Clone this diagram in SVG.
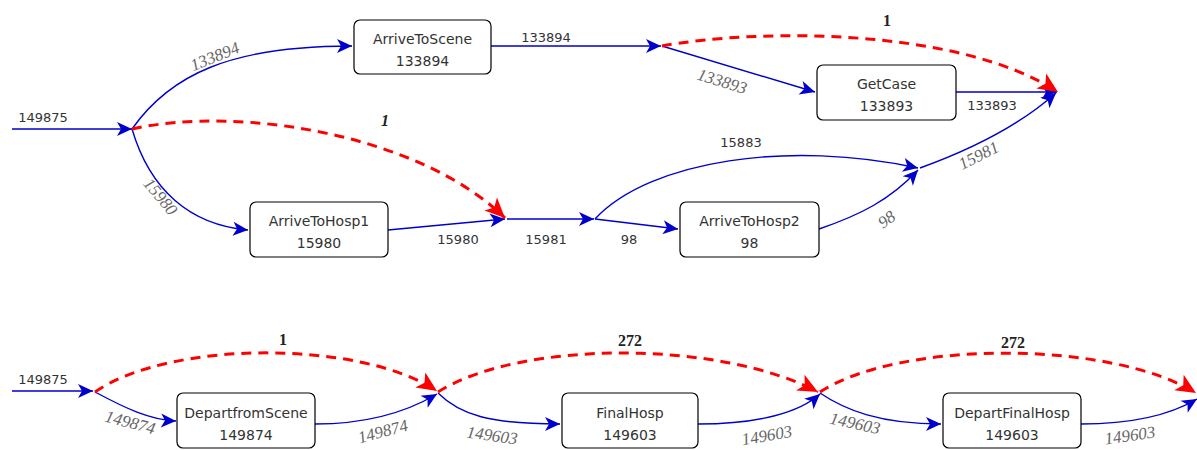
<svg xmlns="http://www.w3.org/2000/svg" width="1197" height="450" viewBox="0 0 1197 450">
<style>
.node rect{fill:#fff;stroke:#000;stroke-width:1.2}
.node text{font-family:"DejaVu Sans",sans-serif;font-size:14px;fill:#333;text-anchor:middle}
.e{fill:none;stroke:#0000CC;stroke-width:1.4;marker-end:url(#ab)}
.r{fill:none;stroke:#FF0000;stroke-width:3;stroke-dasharray:10 7;marker-end:url(#ar)}
.lu{font-family:"DejaVu Sans",sans-serif;font-size:13px;fill:#333;text-anchor:middle}
.li{font-family:"Liberation Serif",serif;font-style:italic;font-size:17px;fill:#666;text-anchor:middle}
.lb{font-family:"Liberation Serif",serif;font-weight:bold;font-size:16px;fill:#222;text-anchor:middle}
</style>
<defs>
<marker id="ab" markerUnits="userSpaceOnUse" markerWidth="16" markerHeight="15" refX="15" refY="7" orient="auto" overflow="visible">
<path d="M0,0 L15,7 L0,14 L4,7 Z" fill="#0000CC"/>
</marker>
<marker id="ar" markerUnits="userSpaceOnUse" markerWidth="21" markerHeight="19" refX="20" refY="9" orient="auto" overflow="visible">
<path d="M0,0 L20,9 L0,18 L5,9 Z" fill="#FF0000"/>
</marker>
</defs>
<g id="connectors">
<path class="e" d="M12,129 L132,129"/>
<path class="e" d="M132,129 C170,75 230,46 352,46"/>
<path class="e" d="M132,129 C150,190 190,225 248,230"/>
<path class="e" d="M491,46 L661,46"/>
<path class="e" d="M662,46 L815,92"/>
<path class="e" d="M956,92 L1057,92"/>
<path class="e" d="M388,230 L505,219"/>
<path class="e" d="M507,219 L594,219"/>
<path class="e" d="M595,219 L678,229"/>
<path class="e" d="M595,219 C650,160 790,140 918,168"/>
<path class="e" d="M819,229 C860,215 890,200 918,170"/>
<path class="e" d="M920,168 C970,150 1020,125 1056,93"/>
<path class="r" d="M132,129 C240,105 420,135 505,218"/>
<path class="r" d="M662,46 C760,28 960,28 1058,92"/>
<path class="e" d="M12,391 L93,391"/>
<path class="e" d="M95,392 C125,408 150,420 176,421"/>
<path class="e" d="M315,424 C370,424 410,410 437,394"/>
<path class="e" d="M438,393 C460,415 490,424 560,424"/>
<path class="e" d="M698,424 C760,424 800,412 820,394"/>
<path class="e" d="M820,393 C845,410 880,424 941,424"/>
<path class="e" d="M1081,424 C1130,424 1170,415 1197,399"/>
<path class="r" d="M95,392 C170,340 360,340 437,391"/>
<path class="r" d="M438,392 C520,340 720,340 818,392"/>
<path class="r" d="M820,392 C900,340 1110,340 1196,393"/>
<text class="lu" x="43" y="122">149875</text>
<text class="lu" x="546" y="42">133894</text>
<text class="lu" x="992" y="110">133893</text>
<text class="lu" x="458" y="244">15980</text>
<text class="lu" x="546" y="244">15981</text>
<text class="lu" x="629" y="244">98</text>
<text class="lu" x="741" y="147">15883</text>
<text class="lu" x="43" y="384">149875</text>
<text class="li" transform="translate(215,57) rotate(-22)" y="5">133894</text>
<text class="li" transform="translate(160,197) rotate(50)" y="5">15980</text>
<text class="li" transform="translate(722,82) rotate(17)" y="5">133893</text>
<text class="li" transform="translate(887,220) rotate(-35)" y="5">98</text>
<text class="li" transform="translate(979,156) rotate(-27)" y="5">15981</text>
<text class="li" transform="translate(130,423) rotate(15)" y="5">149874</text>
<text class="li" transform="translate(383,432) rotate(-15)" y="5">149874</text>
<text class="li" transform="translate(492,436) rotate(8)" y="5">149603</text>
<text class="li" transform="translate(767,436) rotate(-10)" y="5">149603</text>
<text class="li" transform="translate(855,424) rotate(12)" y="5">149603</text>
<text class="li" transform="translate(1130,436) rotate(-8)" y="5">149603</text>
<text class="lb" x="385" y="126" font-style="italic">1</text>
<text class="lb" x="887" y="26">1</text>
<text class="lb" x="283" y="345">1</text>
<text class="lb" x="630" y="346">272</text>
<text class="lb" x="1013" y="348">272</text>
</g>
<g id="ArriveToScene" class="node"><rect x="354" y="20" width="137" height="54" rx="6"/><text x="422.5" y="44">ArriveToScene</text><text x="422.5" y="66">133894</text></g>
<g id="GetCase" class="node"><rect x="817" y="65" width="139" height="55" rx="6"/><text x="886.5" y="89">GetCase</text><text x="886.5" y="111">133893</text></g>
<g id="ArriveToHosp1" class="node"><rect x="250" y="202" width="138" height="55" rx="6"/><text x="319" y="226">ArriveToHosp1</text><text x="319" y="248">15980</text></g>
<g id="ArriveToHosp2" class="node"><rect x="680" y="202" width="139" height="55" rx="6"/><text x="749.5" y="226">ArriveToHosp2</text><text x="749.5" y="248">98</text></g>
<g id="DepartfromScene" class="node"><rect x="177" y="393" width="138" height="55" rx="6"/><text x="246" y="418">DepartfromScene</text><text x="246" y="440">149874</text></g>
<g id="FinalHosp" class="node"><rect x="562" y="393" width="136" height="55" rx="6"/><text x="630" y="418">FinalHosp</text><text x="630" y="440">149603</text></g>
<g id="DepartFinalHosp" class="node"><rect x="943" y="393" width="138" height="55" rx="6"/><text x="1012" y="418">DepartFinalHosp</text><text x="1012" y="440">149603</text></g>
</svg>
